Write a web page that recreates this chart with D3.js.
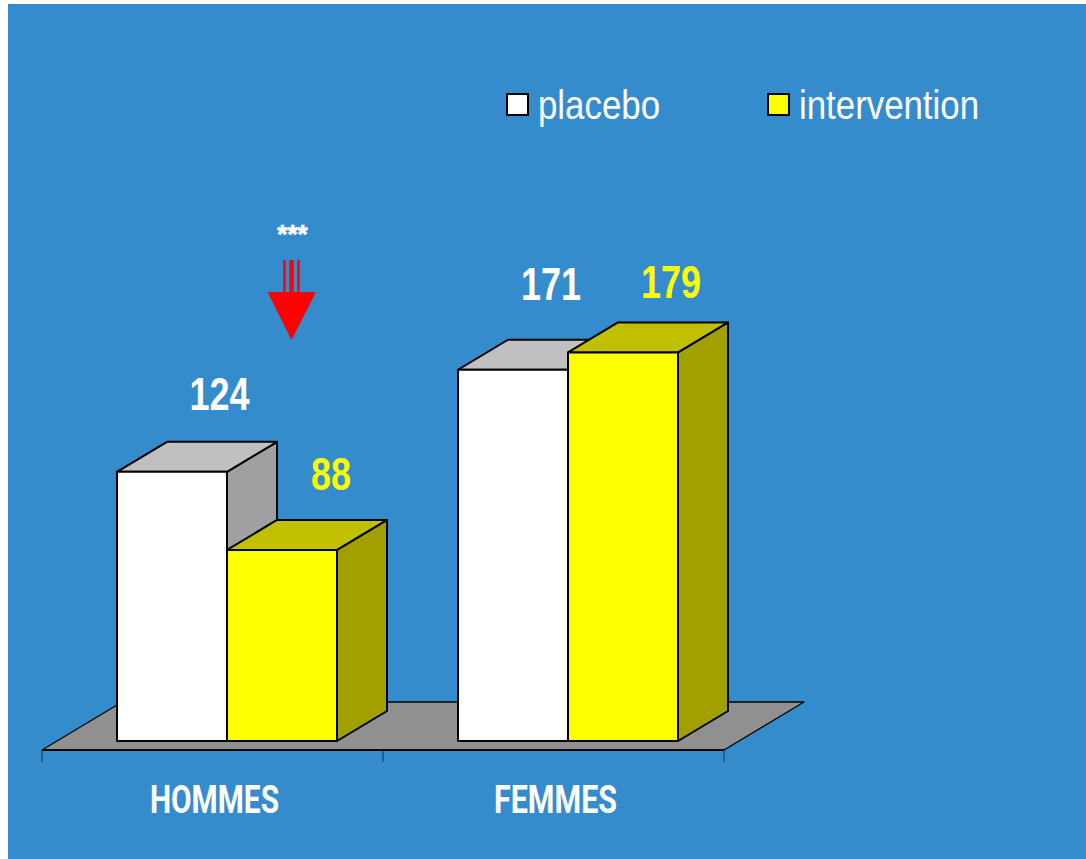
<!DOCTYPE html>
<html>
<head>
<meta charset="utf-8">
<script src="https://cdn.jsdelivr.net/npm/d3@7/dist/d3.min.js"></script>
<style>
html,body{margin:0;padding:0;background:#fff;}
svg{display:block;}
text{font-family:"Liberation Sans",sans-serif;}
</style>
</head>
<body>
<svg id="chart" width="1086" height="859"></svg>
<script>
// Sex groups, treatment arms and the value printed above each bar
const categories = ["HOMMES", "FEMMES"];
const seriesNames = ["placebo", "intervention"];
const placebo = [124, 171];
const intervention = [88, 179];
const significance = "***";

const faceColors = {placebo: "#ffffff", intervention: "#ffff00"};
const topColors = {placebo: "#c0c0c0", intervention: "#c0c000"};
const sideColors = {placebo: "#a0a0a0", intervention: "#a0a000"};
const labelColors = {placebo: "#ffffff", intervention: "#ffff00"};

const svg = d3.select("#chart");
svg.append("rect").attr("x", 8).attr("y", 4).attr("width", 1078).attr("height", 855).attr("fill", "#348ccd");

const baseY = 741, floorFront = 750;
const dx = 50, dy = -30;

const x0 = d3.scaleBand().domain(categories).range([42, 724]);
const x1 = d3.scaleBand().domain(seriesNames).range([75, 295]);
const y = d3.scaleLinear().domain([0, 179]).range([baseY, baseY - 179 * 2.171]);

// Floor plane under the bars
const fl = x0.range();
svg.append("path")
  .attr("d", `M${fl[0]},${floorFront}L${fl[1]},${floorFront}L${fl[1] + 80},${floorFront - 48}L${fl[0] + 80},${floorFront - 48}Z`)
  .attr("fill", "#909090").attr("stroke", "#000").attr("stroke-width", 1.3).attr("stroke-linejoin", "round");
svg.append("line").attr("x1", fl[0]).attr("x2", fl[1]).attr("y1", floorFront).attr("y2", floorFront)
  .attr("stroke", "#000").attr("stroke-width", 2);

// Category tick marks sit on the band boundaries
const tickXs = categories.map(c => x0(c)).concat(fl[1]);
svg.selectAll("line.tick").data(tickXs).join("line").attr("class", "tick")
  .attr("x1", d => d).attr("x2", d => d).attr("y1", floorFront).attr("y2", floorFront + 12)
  .attr("stroke", "#14304a").attr("stroke-width", 1);

// Flatten into one record per bar, drawn back to front in reading order
const bars = [];
categories.forEach((c, i) => {
  bars.push({cat: c, arm: "placebo", value: placebo[i]});
  bars.push({cat: c, arm: "intervention", value: intervention[i]});
});

const bw = x1.bandwidth();
const g = svg.append("g").attr("stroke", "#000").attr("stroke-width", 2).attr("stroke-linejoin", "round");
bars.forEach(d => {
  const l = x0(d.cat) + x1(d.arm), r = l + bw, t = y(d.value);
  g.append("path").attr("d", `M${r},${t}L${r + dx},${t + dy}L${r + dx},${baseY + dy}L${r},${baseY}Z`).attr("fill", sideColors[d.arm]);
  g.append("path").attr("d", `M${l},${t}L${l + dx},${t + dy}L${r + dx},${t + dy}L${r},${t}Z`).attr("fill", topColors[d.arm]);
  g.append("rect").attr("x", l).attr("y", t).attr("width", bw).attr("height", baseY - t).attr("fill", faceColors[d.arm]);
});

// Value labels above the bars, squeezed to a condensed width
const labelPlace = {
  HOMMESplacebo: {dx: 102.5, y: 410},
  HOMMESintervention: {dx: 104, y: 490},
  FEMMESplacebo: {dx: 93, y: 299.5},
  FEMMESintervention: {dx: 103, y: 298}
};
svg.selectAll("text.value").data(bars).join("text").attr("class", "value")
  .attr("x", d => x0(d.cat) + x1(d.arm) + labelPlace[d.cat + d.arm].dx)
  .attr("y", d => labelPlace[d.cat + d.arm].y)
  .attr("text-anchor", "middle")
  .attr("font-size", 46).attr("font-weight", "bold")
  .attr("textLength", d => String(d.value).length * 20)
  .attr("lengthAdjust", "spacingAndGlyphs")
  .attr("fill", d => labelColors[d.arm])
  .text(d => d.value);

// Category names
const catWidth = {HOMMES: 129, FEMMES: 123};
svg.selectAll("text.cat").data(categories).join("text").attr("class", "cat")
  .attr("x", d => x0(d) + x0.bandwidth() / 2 + 2)
  .attr("y", 813)
  .attr("text-anchor", "middle")
  .attr("font-size", 39).attr("font-weight", 700)
  .attr("textLength", d => catWidth[d])
  .attr("lengthAdjust", "spacingAndGlyphs")
  .attr("fill", "#fff")
  .style("font-family", "Roboto")
  .text(d => d);

// Legend
const legendX = {placebo: 507, intervention: 768};
const legendWidth = {placebo: 122, intervention: 180};
seriesNames.forEach(s => {
  svg.append("rect").attr("x", legendX[s]).attr("y", 94).attr("width", 21).attr("height", 21)
    .attr("fill", faceColors[s]).attr("stroke", "#000").attr("stroke-width", 2);
  svg.append("text").attr("x", legendX[s] + 31).attr("y", 119)
    .attr("font-size", 41).attr("fill", "#fff")
    .attr("textLength", legendWidth[s]).attr("lengthAdjust", "spacingAndGlyphs")
    .text(s);
});

// Significance marker: three-line shaft with a solid head
svg.append("text").attr("x", 292.5).attr("y", 243).attr("text-anchor", "middle")
  .attr("font-size", 26).attr("font-weight", "bold").attr("fill", "#fff")
  .attr("stroke", "#fff").attr("stroke-width", 0.7).text(significance);
[[284.5, 2.5], [291.5, 4.5], [298.5, 2.5]].forEach(([cx, w]) => {
  svg.append("rect").attr("x", cx - w / 2).attr("y", 260).attr("width", w).attr("height", 33).attr("fill", "#ff0000");
});
svg.append("path").attr("d", "M267.5,292L316,292L291.5,340Z").attr("fill", "#ff0000");
</script>
</body>
</html>
